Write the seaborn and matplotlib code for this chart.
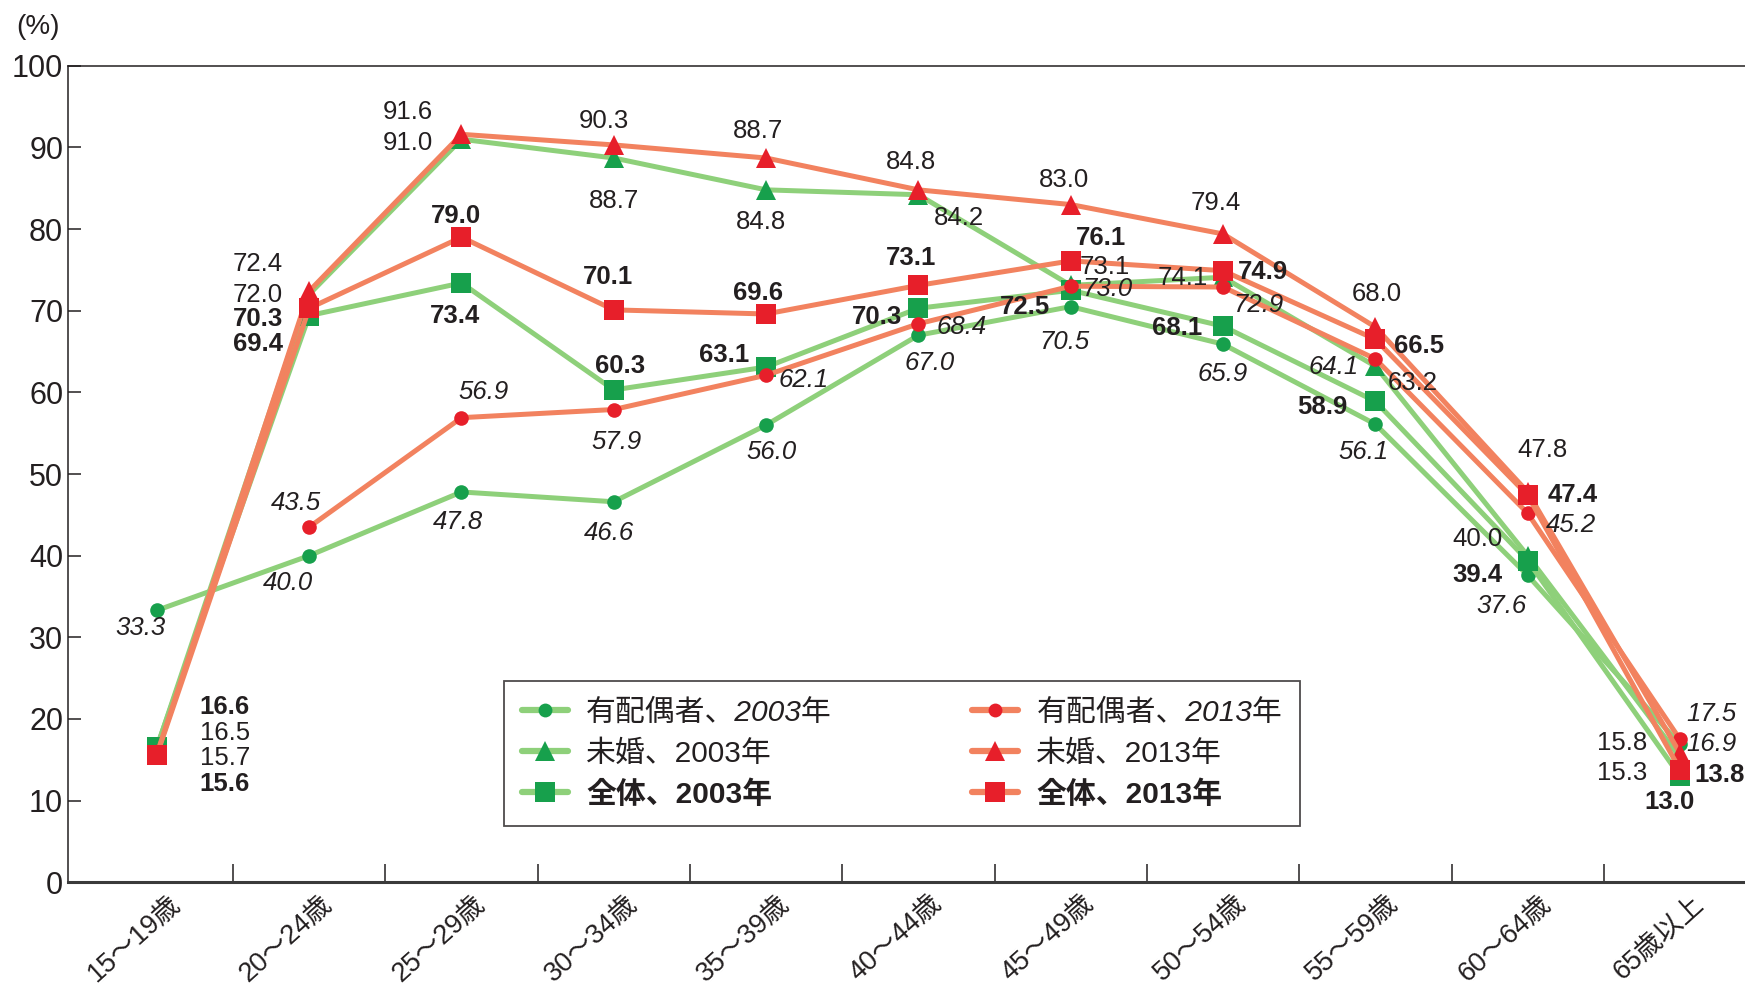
import numpy as np
import pandas as pd
import matplotlib
matplotlib.use("Agg")
import matplotlib.pyplot as plt
from matplotlib.lines import Line2D
from matplotlib.transforms import ScaledTranslation
import seaborn as sns

# ---- data -------------------------------------------------------------
ages = ["15～19歳", "20～24歳", "25～29歳", "30～34歳", "35～39歳", "40～44歳",
        "45～49歳", "50～54歳", "55～59歳", "60～64歳", "65歳以上"]

married_2003 = [33.3, 40.0, 47.8, 46.6, 56.0, 67.0, 70.5, 65.9, 56.1, 37.6, 16.9]
married_2013 = [np.nan, 43.5, 56.9, 57.9, 62.1, 68.4, 73.0, 72.9, 64.1, 45.2, 17.5]
single_2003 = [16.5, 72.0, 91.0, 88.7, 84.8, 84.2, 73.1, 74.1, 63.2, 40.0, 15.3]
single_2013 = [15.7, 72.4, 91.6, 90.3, 88.7, 84.8, 83.0, 79.4, 68.0, 47.8, 15.8]
total_2003 = [16.6, 69.4, 73.4, 60.3, 63.1, 70.3, 72.5, 68.1, 58.9, 39.4, 13.0]
total_2013 = [15.6, 70.3, 79.0, 70.1, 69.6, 73.1, 76.1, 74.9, 66.5, 47.4, 13.8]

series_labels = ["有配偶者、2003年", "未婚、2003年", "全体、2003年",
                 "有配偶者、2013年", "未婚、2013年", "全体、2013年"]
series_values = [married_2003, single_2003, total_2003,
                 married_2013, single_2013, total_2013]

# ---- styling ----------------------------------------------------------
FAM = ["Liberation Sans", "Noto Sans CJK JP"]
sns.set_theme(style="white")
plt.rcParams["font.family"] = FAM
plt.rcParams["axes.unicode_minus"] = False

TEXT = "#231f20"
GREEN_LINE, GREEN_MARK = "#8ed07a", "#17a04c"
RED_LINE, RED_MARK = "#f2825f", "#e71f2a"

styles = [
    dict(line=GREEN_LINE, mark=GREEN_MARK, marker="o", ms=10.5, font=dict(style="italic")),
    dict(line=GREEN_LINE, mark=GREEN_MARK, marker="^", ms=15, font=dict()),
    dict(line=GREEN_LINE, mark=GREEN_MARK, marker="s", ms=15, font=dict(weight="bold")),
    dict(line=RED_LINE, mark=RED_MARK, marker="o", ms=10.5, font=dict(style="italic")),
    dict(line=RED_LINE, mark=RED_MARK, marker="^", ms=15, font=dict()),
    dict(line=RED_LINE, mark=RED_MARK, marker="s", ms=15, font=dict(weight="bold")),
]

# value-label placement (pixel offsets from each point: right, down)
label_offsets = [
    [(-16, 18), (-21, 27), (-4, 30), (-5, 31), (5, 27), (11, 28), (-6, 35), (0, 30), (-12, 28), (-26, 31), (31, 0)],
    [(68, -15), (-51, 1), (-54, 4), (0, 43), (-5, 32), (41, 23), (34, -18), (-40, 1), (37, 17), (-50, -17), (-58, 16)],
    [(68, -40), (-51, 28), (-6, 33), (6, -24), (-42, -12), (-41, 9), (-46, 17), (-46, 2), (-53, 6), (-50, 14), (-10, 26)],
    [None, (-13, -24), (22, -26), (3, 32), (38, 5), (43, 3), (37, 3), (35, 18), (-42, 8), (43, 12), (31, -25)],
    [(68, 4), (-51, -27), (-54, -22), (-10, -24), (-8, -27), (-7, -28), (-7, -25), (-7, -31), (1, -33), (15, -42), (-58, -10)],
    [(68, 29), (-51, 11), (-6, -21), (-6, -33), (-8, -21), (-7, -27), (30, -23), (40, 1), (44, 7), (45, 0), (40, 5)],
]

fig = plt.figure(figsize=(17.45, 9.93), dpi=100)
ax = fig.add_axes([0.0391, 0.1115, 0.9609, 0.8223])

# ---- lines ------------------------------------------------------------
for label, values, st in zip(series_labels, series_values, styles):
    df = pd.DataFrame({"age": ages, "rate": values})
    sns.lineplot(data=df, x="age", y="rate", ax=ax, sort=False,
                 color=st["line"], linewidth=3.6, marker=st["marker"],
                 markersize=st["ms"], markerfacecolor=st["mark"],
                 markeredgecolor=st["mark"], markeredgewidth=0,
                 solid_capstyle="round", solid_joinstyle="round")

# ---- value labels -----------------------------------------------------
for values, st, offs in zip(series_values, styles, label_offsets):
    for i, (v, off) in enumerate(zip(values, offs)):
        if off is None or np.isnan(v):
            continue
        ax.annotate(f"{v:.1f}", xy=(i, v), xytext=(off[0], -off[1]),
                    textcoords="offset pixels", ha="center", va="center",
                    fontsize=18.5, color=TEXT, family=FAM, **st["font"])

# ---- axes -------------------------------------------------------------
ax.set_xlim(-0.582, 10.427)
ax.set_ylim(0, 100)
ax.set_xlabel("")
ax.set_ylabel("")

ax.set_yticks(np.arange(0, 101, 10))
ax.tick_params(axis="y", which="major", direction="in", length=9.5, width=1.1,
               labelsize=22, pad=3.6, colors=TEXT, left=True)

ax.set_xticks(np.arange(len(ages)))
ax.set_xticklabels(ages, rotation=42, ha="right", va="center",
                   rotation_mode="anchor", fontsize=19.5, color=TEXT)
ax.tick_params(axis="x", which="major", direction="in", length=0, pad=13)
ax.set_xticks(np.arange(0.5, len(ages) - 1, 1), minor=True)
ax.tick_params(axis="x", which="minor", direction="in", length=13, width=1.1,
               color=TEXT, bottom=True)
shift = ScaledTranslation(20 / 100, 0, fig.dpi_scale_trans)
for t in ax.get_xticklabels():
    t.set_transform(t.get_transform() + shift)

for side in ["left", "top"]:
    ax.spines[side].set_color(TEXT)
    ax.spines[side].set_linewidth(1.1)
ax.spines["bottom"].set_color("#3a3a3a")
ax.spines["bottom"].set_linewidth(2.2)
ax.spines["right"].set_visible(False)
ax.grid(False)

fig.text(38 / 1745, 1 - 27 / 993, "(%)", ha="center", va="center",
         fontsize=20, color=TEXT)

# ---- legend -----------------------------------------------------------
handles = [Line2D([], [], color=st["line"], linewidth=4.5, marker=st["marker"],
                  markersize=st["ms"] * 0.95, markerfacecolor=st["mark"],
                  markeredgecolor=st["mark"], markeredgewidth=0)
           for st in styles]
leg = fig.legend(handles, series_labels, loc="upper left",
                 bbox_to_anchor=(504 / 1745, 1 - 681 / 993),
                 bbox_transform=fig.transFigure, ncol=2, frameon=True,
                 fancybox=False, shadow=False, borderaxespad=0,
                 fontsize=21.5, handlelength=1.55, handletextpad=0.6,
                 columnspacing=4.7, labelspacing=0.42, borderpad=0.6)
leg.get_frame().set_edgecolor(TEXT)
leg.get_frame().set_linewidth(1.3)
for txt, st in zip(leg.get_texts(), styles):
    txt.set_color(TEXT)
    txt.set_family(FAM)
    if st["font"].get("style"):
        txt.set_style("italic")
    if st["font"].get("weight"):
        txt.set_weight("bold")

fig.savefig("out.png", dpi=100, facecolor="white")
